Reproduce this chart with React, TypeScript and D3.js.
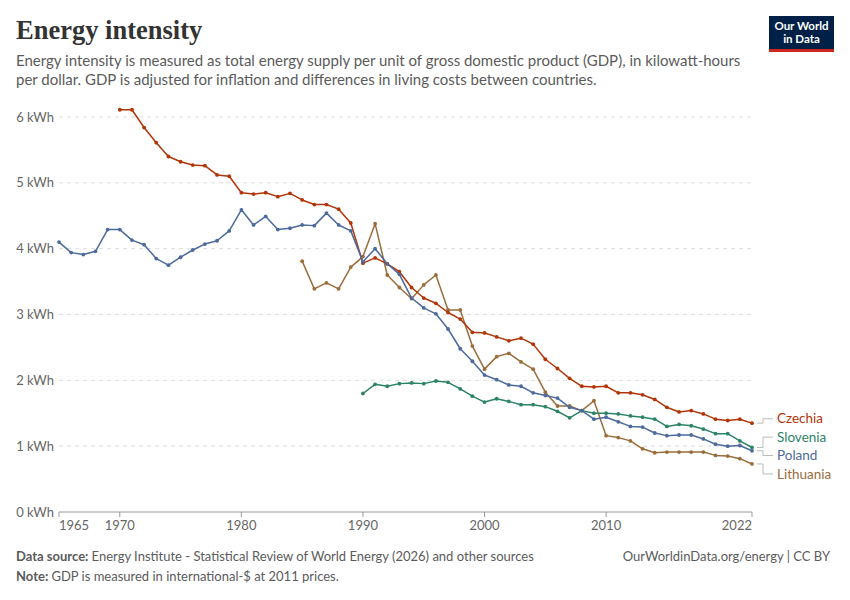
import React from "react";
import * as d3 from "d3";

const czechiaStart = 1970;
const czechia = [6.11, 6.11, 5.84, 5.61, 5.40, 5.32, 5.27, 5.26, 5.12, 5.10,
  4.85, 4.83, 4.85, 4.79, 4.84, 4.74, 4.67, 4.67, 4.60, 4.39,
  3.78, 3.86, 3.77, 3.65, 3.41, 3.25, 3.17, 3.03, 2.93, 2.73,
  2.72, 2.66, 2.60, 2.64, 2.55, 2.32, 2.18, 2.03, 1.91, 1.90,
  1.91, 1.81, 1.81, 1.78, 1.71, 1.59, 1.52, 1.54, 1.49, 1.41,
  1.39, 1.41, 1.35];

const polandStart = 1965;
const poland = [4.10, 3.94, 3.91, 3.96, 4.29,
  4.29, 4.13, 4.06, 3.85, 3.75, 3.87, 3.98, 4.07, 4.12, 4.27,
  4.59, 4.36, 4.49, 4.29, 4.31, 4.36, 4.35, 4.54, 4.36, 4.27,
  3.80, 4.00, 3.77, 3.61, 3.25, 3.10, 3.01, 2.78, 2.48, 2.29,
  2.08, 2.01, 1.93, 1.91, 1.81, 1.77, 1.73, 1.59, 1.54, 1.41,
  1.44, 1.37, 1.30, 1.29, 1.20, 1.16, 1.17, 1.17, 1.11, 1.03,
  1.00, 1.01, 0.93];

const lithuaniaStart = 1985;
const lithuania = [3.81, 3.39, 3.48, 3.39, 3.72,
  3.88, 4.38, 3.60, 3.41, 3.24, 3.45, 3.60, 3.07, 3.07, 2.52,
  2.17, 2.36, 2.41, 2.28, 2.17, 1.82, 1.61, 1.61, 1.54, 1.69,
  1.16, 1.13, 1.08, 0.96, 0.90, 0.91, 0.91, 0.91, 0.91, 0.86,
  0.85, 0.81, 0.73];

const sloveniaStart = 1990;
const slovenia = [1.80, 1.94, 1.91, 1.95, 1.96, 1.95, 1.99, 1.97, 1.87, 1.76,
  1.67, 1.72, 1.68, 1.63, 1.63, 1.60, 1.53, 1.43, 1.54, 1.50,
  1.50, 1.49, 1.46, 1.44, 1.41, 1.30, 1.33, 1.31, 1.26, 1.19,
  1.19, 1.08, 0.98];

const yTicks = [0, 1, 2, 3, 4, 5, 6];
const xTicks = [1965, 1970, 1980, 1990, 2000, 2010, 2022];

const seriesDefs = [
  { name: "Lithuania", start: lithuaniaStart, values: lithuania, color: "#9A6D3B" },
  { name: "Czechia", start: czechiaStart, values: czechia, color: "#B13507" },
  { name: "Slovenia", start: sloveniaStart, values: slovenia, color: "#2C8465" },
  { name: "Poland", start: polandStart, values: poland, color: "#4C6A9C" },
];

const W = 850, H = 600;
const left = 59, right = 752, top = 117, bottom = 512;

export default function App() {
  const x = d3.scaleLinear().domain([1965, 2022]).range([left, right]);
  const y = d3.scaleLinear().domain([0, 6]).range([bottom, top]);
  const line = d3.line<[number, number]>().x(d => x(d[0])).y(d => y(d[1]));

  const series = seriesDefs.map(s => ({
    ...s,
    pts: s.values.map((v, i) => [s.start + i, v] as [number, number]),
  }));

  // label placement: resolve overlaps by grouping and centering
  const gap = 18.4;
  const labs = series.map(s => ({ name: s.name, color: s.color, target: y(s.values[s.values.length - 1]), endY: y(s.values[s.values.length - 1]), pos: 0 }))
    .sort((a, b) => a.target - b.target);
  let groups = labs.map(l => ({ items: [l], center: l.target }));
  let changed = true;
  while (changed) {
    changed = false;
    for (let i = 0; i < groups.length - 1; i++) {
      const a = groups[i], b = groups[i + 1];
      const aBottom = a.center + (a.items.length - 1) * gap / 2;
      const bTop = b.center - (b.items.length - 1) * gap / 2;
      if (bTop - aBottom < gap) {
        const items = [...a.items, ...b.items];
        const center = d3.mean(items, it => it.target) as number;
        groups.splice(i, 2, { items, center });
        changed = true;
        break;
      }
    }
  }
  groups.forEach(g => g.items.forEach((it, i) => { it.pos = g.center + (i - (g.items.length - 1) / 2) * gap; }));

  const lato = "Lato, 'Noto Sans', sans-serif";
  const x0 = right + 5, xm = 763, x1 = 773, lx = 777;

  return (
    <svg width={W} height={H} style={{ position: "absolute", left: 0, top: 0, background: "#fff" }} fontFamily={lato}>
      <rect width={W} height={H} fill="#fff" />
      <text x={16} y={39} fontFamily="'Liberation Serif', serif" fontWeight={700} fontSize={26.5} fill="#333">Energy intensity</text>
      <text x={16} y={66} fontSize={15} fill="#5b5b5b">Energy intensity is measured as total energy supply per unit of gross domestic product (GDP), in kilowatt-hours</text>
      <text x={16} y={85} fontSize={15} fill="#5b5b5b">per dollar. GDP is adjusted for inflation and differences in living costs between countries.</text>

      <g>
        <rect x={769} y={16} width={65} height={36} fill="#002147" />
        <rect x={769} y={49} width={65} height={3} fill="#CE261E" />
        <text x={801.5} y={30} textAnchor="middle" fontSize={11.5} fontWeight={700} fill="#fff">Our World</text>
        <text x={801.5} y={43} textAnchor="middle" fontSize={11.5} fontWeight={700} fill="#fff">in Data</text>
      </g>

      {yTicks.map(t => (
        <g key={t}>
          {t > 0 && <line x1={left} x2={right} y1={y(t)} y2={y(t)} stroke="#dddddd" strokeDasharray="4,4" />}
          <text x={54} y={y(t)} dy="0.35em" textAnchor="end" fontSize={13} fill="#666">{`${t} kWh`}</text>
        </g>
      ))}
      <line x1={left} x2={right} y1={bottom} y2={bottom} stroke="#999" />
      {xTicks.map((t, i) => (
        <g key={t}>
          <line x1={x(t)} x2={x(t)} y1={bottom} y2={bottom + 5} stroke="#999" />
          <text x={x(t)} y={530} fontSize={13} fill="#666"
            textAnchor={i === 0 ? "start" : i === xTicks.length - 1 ? "end" : "middle"}>{t}</text>
        </g>
      ))}

      {series.map(s => (
        <g key={s.name}>
          <path d={line(s.pts) || ""} fill="none" stroke={s.color} strokeWidth={1.5} strokeLinejoin="round" />
          {s.pts.map(p => <circle key={p[0]} cx={x(p[0])} cy={y(p[1])} r={1.9} fill={s.color} />)}
        </g>
      ))}

      {labs.map(l => (
        <g key={l.name}>
          <path d={`M${x0},${l.endY}H${xm}V${l.pos}H${x1}`} fill="none" stroke="#bbb" strokeWidth={1} />
          <text x={lx} y={l.pos} dy="0.35em" fontSize={13.5} fill={l.color}>{l.name}</text>
        </g>
      ))}

      <text x={16} y={561} fontSize={13} fill="#5b5b5b"><tspan fontWeight={700}>Data source: </tspan>Energy Institute - Statistical Review of World Energy (2026) and other sources</text>
      <text x={16} y={580.5} fontSize={13} fill="#5b5b5b"><tspan fontWeight={700}>Note: </tspan>GDP is measured in international-$ at 2011 prices.</text>
      <text x={830} y={561} fontSize={13} fill="#5b5b5b" textAnchor="end">OurWorldinData.org/energy | CC BY</text>
    </svg>
  );
}
